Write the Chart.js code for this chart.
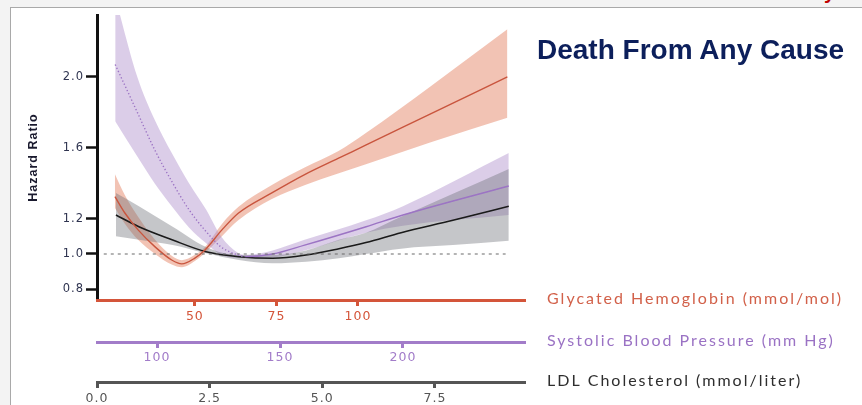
<!DOCTYPE html>
<html>
<head>
<meta charset="utf-8">
<title>Death From Any Cause</title>
<script src="https://cdn.jsdelivr.net/npm/chart.js@4.4.1/dist/chart.umd.min.js"></script>
<style>
  html, body { margin: 0; padding: 0; }
  body { width: 862px; height: 405px; background: #f3f3f3; position: relative; overflow: hidden; }
  #slide { position: absolute; left: 10px; top: 7px; right: 0; bottom: 0; background: #fff;
           border-left: 1px solid #a9a9a9; border-top: 1px solid #a9a9a9; }
  #corner { position: absolute; left: 824px; top: -18px; font: bold 20px "Liberation Sans", Arial, sans-serif;
            line-height: 20px; color: #c00000; }
  #title { position: absolute; left: 537px; top: 34px; font: bold 28px "Liberation Sans", Arial, sans-serif;
           color: #0c1f5b; white-space: nowrap; }
  #wrap { position: absolute; left: 0; top: 0; width: 862px; height: 405px; }
</style>
</head>
<body>
<div id="slide"></div>
<div id="corner">y</div>
<div id="wrap"><canvas id="hr-chart"></canvas></div>
<div id="title">Death From Any Cause</div>

<script>
// Glycated hemoglobin (mmol/mol): hazard ratio with 95% band
const hbX  = [25.5, 28.6, 32.6, 37.8, 42.9, 46, 50, 53.1, 58.3, 63.3, 73.6, 83.8, 93.9, 102.2, 122.1, 145.8];
const hbHR = [1.324, 1.23, 1.136, 1.04, 0.966, 0.944, 0.977, 1.023, 1.136, 1.23, 1.345, 1.45, 1.54, 1.613, 1.79, 2.0];
const hbLo = [1.26, 1.17, 1.08, 1.0, 0.94, 0.925, 0.96, 1.005, 1.10, 1.19, 1.31, 1.39, 1.455, 1.505, 1.63, 1.77];
const hbHi = [1.45, 1.33, 1.21, 1.08, 0.99, 0.965, 0.995, 1.04, 1.17, 1.265, 1.39, 1.49, 1.58, 1.68, 1.945, 2.27];

// Systolic blood pressure (mm Hg); the curve is dotted below sbpDotEnd
const sbpX  = [83, 92, 99, 106, 113, 120, 126, 133, 136, 147, 160, 185, 200, 243];
const sbpHR = [2.07, 1.80, 1.59, 1.41, 1.25, 1.126, 1.04, 0.994, 0.985, 1.0, 1.05, 1.154, 1.22, 1.384];
const sbpLo = [1.75, 1.55, 1.40, 1.27, 1.15, 1.06, 0.994, 0.977, 0.975, 0.98, 1.02, 1.12, 1.16, 1.22];
const sbpHi = [2.45, 2.0, 1.76, 1.57, 1.40, 1.25, 1.10, 1.005, 0.995, 1.02, 1.08, 1.19, 1.27, 1.57];
const sbpDotEnd = 136;

// LDL cholesterol (mmol/liter)
const ldlX  = [0.42, 0.93, 1.68, 2.42, 3.15, 3.9, 4.64, 5.37, 5.97, 6.75, 7.9, 9.14];
const ldlHR = [1.22, 1.154, 1.079, 1.013, 0.985, 0.976, 0.994, 1.03, 1.065, 1.12, 1.19, 1.27];
const ldlLo = [1.10, 1.08, 1.05, 1.004, 0.966, 0.947, 0.956, 0.976, 1.0, 1.03, 1.05, 1.075];
const ldlHi = [1.345, 1.27, 1.154, 1.04, 0.994, 0.994, 1.02, 1.08, 1.12, 1.21, 1.34, 1.48];

// reference line HR = 1 (drawn on the LDL axis)
const refX = [0.15, 9.07];
const refY = [1.0, 1.0];

// axis ticks
const yTicks   = [0.8, 1.0, 1.2, 1.6, 2.0];
const hbTicks  = [50, 75, 100];
const sbpTicks = [100, 150, 200];
const ldlTicks = [0, 2.5, 5.0, 7.5];

const axisNames = [
  { id: 'xHb',  text: 'Glycated Hemoglobin (mmol/mol)',  color: '#d2614a' },
  { id: 'xSbp', text: 'Systolic Blood Pressure (mm Hg)', color: '#9a72c4' },
  { id: 'xLdl', text: 'LDL Cholesterol (mmol/liter)',    color: '#2e2e2e' }
];

const RED = '#c9553e', PURPLE = '#9c74c4', BLACK = '#1a1a1a';

function pts(xs, ys) {
  return xs.map((x, i) => ({ x: x, y: ys[i] }));
}

// returns the upper and lower edge datasets; the upper one fills down to the lower
function band(xs, lo, hi, axis, fillColor, order) {
  return [
    { data: pts(xs, hi), xAxisID: axis, borderWidth: 0, pointRadius: 0,
      backgroundColor: fillColor, fill: '+1', cubicInterpolationMode: 'monotone', order: order },
    { data: pts(xs, lo), xAxisID: axis, borderWidth: 0, pointRadius: 0,
      fill: false, cubicInterpolationMode: 'monotone', order: order }
  ];
}

function curve(xs, ys, axis, color, width) {
  return { data: pts(xs, ys), xAxisID: axis, borderColor: color, borderWidth: width,
           pointRadius: 0, fill: false, cubicInterpolationMode: 'monotone', order: 0 };
}

const sbpLine = curve(sbpX, sbpHR, 'xSbp', PURPLE, 1.4);
sbpLine.segment = { borderDash: c => (c.p1.parsed.x <= sbpDotEnd ? [1.3, 2.2] : undefined) };

const datasets = [
  curve(refX, refY, 'xLdl', '#6b6b6b', 1.2),
  curve(hbX, hbHR, 'xHb', RED, 1.4),
  sbpLine,
  curve(ldlX, ldlHR, 'xLdl', BLACK, 1.5),
  ...band(ldlX, ldlLo, ldlHi, 'xLdl', 'rgba(110,112,120,0.4)', 1),
  ...band(sbpX, sbpLo, sbpHi, 'xSbp', 'rgba(175,145,205,0.45)', 2),
  ...band(hbX, hbLo, hbHi, 'xHb', 'rgba(230,135,105,0.5)', 3)
];
datasets[0].borderDash = [3, 4];

function xAxis(ticks, min, max, color, weight, height, pad, fmt) {
  return {
    type: 'linear', position: 'bottom', min: min, max: max, weight: weight,
    afterBuildTicks: s => { s.ticks = ticks.map(v => ({ value: v })); },
    afterFit: s => { s.height = height; },
    border: { display: true, color: color, width: 3 },
    grid: { drawOnChartArea: false, drawTicks: true, tickLength: 6, tickWidth: 3, tickColor: color },
    ticks: { color: color, padding: pad, autoSkip: false, maxRotation: 0,
             font: { family: '"DejaVu Sans", sans-serif', size: 12.5 },
             callback: fmt }
  };
}

// small spacing between glyphs, as in the printed figure
const spacingPlugin = {
  id: 'spacing',
  beforeDraw(chart) { chart.ctx.letterSpacing = '1px'; },
  afterDraw(chart) { chart.ctx.letterSpacing = '0px'; }
};

const axisNamePlugin = {
  id: 'axisNames',
  afterDraw(chart) {
    const ctx = chart.ctx;
    ctx.save();
    ctx.font = '16px Lato, "Open Sans", sans-serif';
    ctx.letterSpacing = '2px';
    ctx.textBaseline = 'middle';
    ctx.textAlign = 'left';
    axisNames.forEach(a => {
      const sc = chart.scales[a.id];
      ctx.fillStyle = a.color;
      ctx.fillText(a.text, chart.chartArea.right + 22, sc.top - 1);
    });
    ctx.restore();
  }
};

new Chart(document.getElementById('hr-chart'), {
  type: 'line',
  data: { datasets: datasets },
  plugins: [spacingPlugin, axisNamePlugin],
  options: {
    responsive: true,
    maintainAspectRatio: false,
    animation: false,
    layout: { padding: { top: 15, left: 26, right: 337, bottom: 0 } },
    plugins: { legend: { display: false }, tooltip: { enabled: false } },
    scales: {
      y: {
        type: 'linear', position: 'left', min: 0.74, max: 2.35,
        afterBuildTicks: s => { s.ticks = yTicks.map(v => ({ value: v })); },
        afterFit: s => { s.width = 71; },
        border: { display: true, color: '#111', width: 3 },
        grid: { drawOnChartArea: false, drawTicks: true, tickLength: 11, tickWidth: 2.5, tickColor: '#111' },
        ticks: { color: '#2f3450', padding: 2, font: { family: '"DejaVu Sans", sans-serif', size: 11.5 },
                 callback: v => v.toFixed(1) },
        title: { display: true, text: 'Hazard Ratio', color: '#1a1a2e', padding: 0,
                 font: { family: '"Liberation Sans Narrow", "Liberation Sans", sans-serif', size: 12.5, weight: 'bold' } }
      },
      xHb:  xAxis(hbTicks, 20, 151.2, '#d4553a', 1, 42, 3, v => v),
      xSbp: xAxis(sbpTicks, 75.6, 249.6, '#a27cc9', 2, 40, 2, v => v),
      xLdl: xAxis(ldlTicks, 0, 9.5, '#555555', 3, 23, 3, v => v.toFixed(1))
    }
  }
});
</script>
</body>
</html>
